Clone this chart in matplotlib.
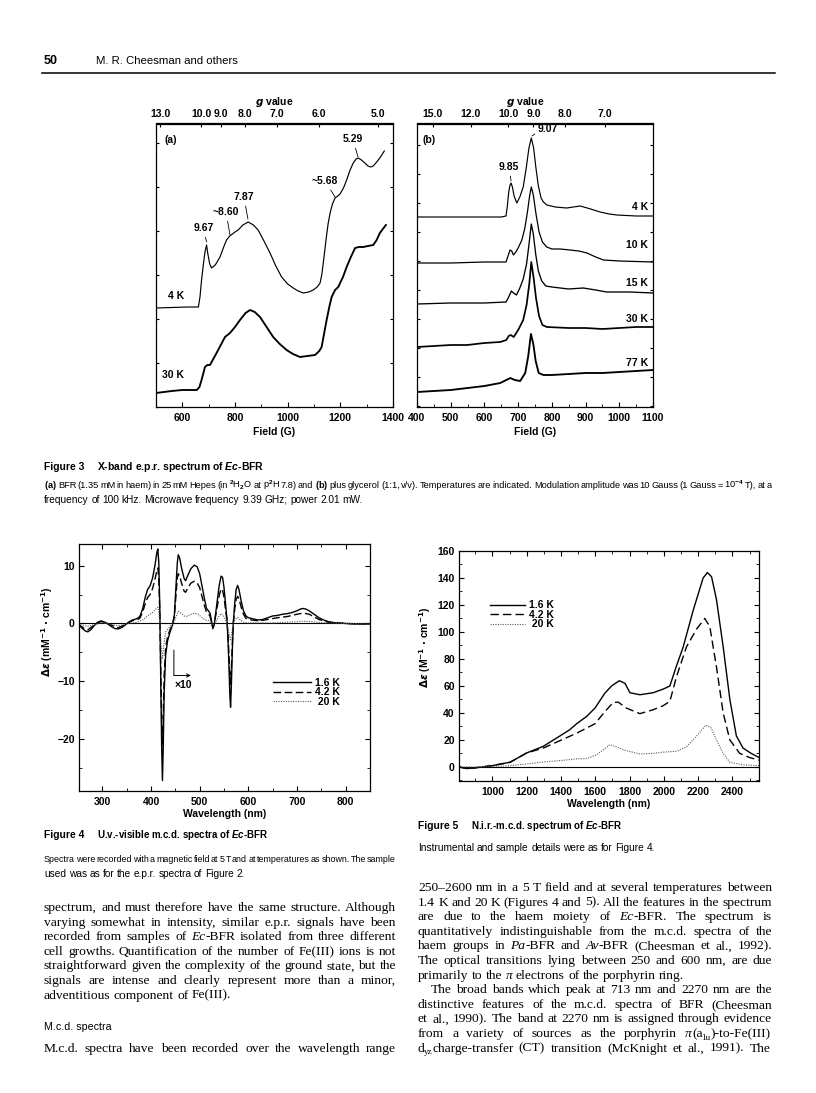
import numpy as np
import matplotlib
matplotlib.use("Agg")
import matplotlib.pyplot as plt
from matplotlib import font_manager
from matplotlib.lines import Line2D
from matplotlib.ticker import MultipleLocator

# ------------------------------------------------------------------ data
# Figure 3(a): X-band EPR, field (G) vs signal (arbitrary units)
a4K_field = [500, 560, 620, 661, 667, 673, 680, 686, 692, 697, 704, 711, 725, 743, 757, 768, 780,
             790, 800, 812, 830, 850, 870, 888, 910, 933, 955, 977, 1000, 1021, 1040, 1059, 1080,
             1097, 1112, 1123, 1130, 1138, 1146, 1154, 1162, 1170, 1180, 1190, 1199, 1212, 1224,
             1237, 1249, 1260, 1268, 1280, 1293, 1305, 1315, 1325, 1335, 1344, 1355, 1367]
a4K_signal = [99, 99.5, 100, 100, 110, 127, 143, 155, 162, 153, 143, 139, 142, 150, 160, 167, 171,
              173, 175, 177, 182, 185, 182, 177, 166, 154, 141, 130, 123, 119, 116, 114, 115,
              117, 120, 124, 133, 150, 168, 184, 195, 203, 209, 211, 213, 219, 227,
              237, 244, 248, 249, 247, 244, 241, 240, 241, 244, 247, 251, 256]
a30K_field = [500, 530, 560, 600, 630, 655, 665, 673, 686, 695, 705, 730, 762, 781, 800, 819, 840,
              857, 875, 895, 920, 945, 970, 996, 1020, 1047, 1075, 1104, 1120, 1129, 1138, 1148,
              1158, 1167, 1180, 1192, 1210, 1224, 1240, 1256, 1270, 1287, 1305, 1325, 1338, 1350, 1373]
a30K_signal = [14, 15, 16, 17, 17, 17, 20, 27, 40, 42, 42, 54, 70, 74, 80, 87, 94,
               97, 95, 90, 80, 70, 63, 57, 53, 50, 51, 52, 56, 60, 73, 87,
               100, 110, 117, 120, 130, 140, 150, 159, 160, 160, 161, 162, 167, 174, 182]

# Figure 3(b): with glycerol, five temperatures
b4K_field = [400, 500, 600, 650, 664, 668, 672, 676, 679, 683, 688, 696, 705, 715, 724, 732, 739, 746,
             752, 760, 768, 775, 785, 810, 844, 884, 915, 943, 970, 993, 1050, 1100]
b4K_signal = [189, 189, 189, 189, 190, 200, 214, 221, 223, 219, 210, 203, 209, 219, 238, 258, 268, 258,
              240, 220, 208, 204, 201, 199, 198, 200, 197, 194, 192, 191, 190, 190]
b10K_field = [400, 500, 600, 664, 670, 676, 681, 686, 693, 700, 711, 720, 728, 734, 739, 745, 753, 762,
              772, 785, 800, 825, 854, 880, 904, 930, 953, 1000, 1100]
b10K_signal = [143, 143, 144, 144, 150, 156, 155, 151, 154, 158, 166, 178, 195, 210, 219, 211, 192, 174,
               164, 159, 157, 157, 156, 155, 153, 149, 146, 145, 144]
b15K_field = [400, 500, 600, 664, 672, 680, 686, 695, 705, 715, 725, 733, 739, 745, 752, 760, 770, 782,
              800, 850, 893, 930, 962, 1030, 1100]
b15K_signal = [102, 103, 103, 104, 109, 115, 113, 111, 118, 127, 142, 164, 182, 172, 152, 135, 125, 120,
               119, 117, 118, 116, 114, 114, 113]
b30K_field = [400, 450, 500, 549, 600, 647, 665, 672, 678, 687, 700, 715, 725, 733, 739, 746, 753, 762,
              772, 785, 850, 900, 950, 1000, 1050, 1100]
b30K_signal = [59, 60, 61, 61, 63, 64, 66, 70, 71, 69, 76, 86, 101, 122, 144, 128, 108, 90,
               81, 79, 78, 78, 77, 78, 79, 79]
b77K_field = [400, 450, 500, 550, 600, 647, 665, 677, 690, 706, 721, 730, 738, 745, 752, 761, 775, 800,
              850, 900, 950, 1000, 1050, 1100]
b77K_signal = [14, 15, 16, 18, 20, 23, 26, 28, 26, 25, 33, 50, 72, 62, 45, 33, 31, 31,
               32, 33, 33, 34, 35, 36]

g_ticks_a = [13.0, 10.0, 9.0, 8.0, 7.0, 6.0, 5.0]
g_ticks_b = [15.0, 12.0, 10.0, 9.0, 8.0, 7.0]
MW_FREQ_GHZ = 9.39

# Figure 4: UV-visible MCD (nm, delta-epsilon mM-1 cm-1)
uv_wl_16 = [250, 258, 265, 270, 276, 283, 290, 297, 303, 310, 318, 325, 332, 340, 348, 355, 362, 370,
            377, 383, 388, 393, 398, 403, 408, 412, 414, 416, 418, 420, 422, 423.5, 425, 427, 430, 434,
            439, 444, 448, 451, 454, 456, 459, 463, 468, 471, 476, 482, 489, 495, 500, 505, 510, 514,
            518, 521, 524, 527, 530, 535, 540, 544, 547, 550, 553, 556, 558, 560, 562, 563.5, 565, 567,
            569, 572, 575, 578, 581, 585, 590, 595, 600, 610, 620, 630, 640, 650, 660, 670, 680, 690,
            700, 707, 713, 718, 725, 735, 745, 755, 765, 780, 800, 820, 850]
uv_de_16 = [-0.1, -0.8, -1.3, -1.45, -1.1, -0.4, 0.2, 0.45, 0.3, 0.0, -0.5, -0.85, -0.95, -0.7, -0.2, 0.3,
            0.6, 0.8, 1.2, 2.6, 4.5, 5.9, 6.5, 7.8, 10.0, 12.3, 12.9, 10.5, 3.0, -10.0, -22.0, -27.2,
            -22.0, -12.0, -5.5, -3.0, -1.5, -0.3, 1.5, 6.0, 10.5, 11.9, 11.3, 9.5, 7.8, 7.4, 8.4, 9.5,
            10.1, 9.8, 8.6, 6.4, 4.2, 2.6, 2.2, 1.8, 0.6, -0.9, -0.2, 3.2, 6.5, 8.2, 8.0, 6.2, 3.5, 0.8,
            -2.5, -7.0, -12.5, -14.5, -11.0, -5.0, 0.0, 3.5, 5.9, 6.6, 5.8, 4.0, 2.2, 1.3, 1.0, 0.8, 0.6,
            0.7, 1.0, 1.3, 1.4, 1.6, 1.7, 1.9, 2.2, 2.5, 2.6, 2.5, 2.2, 1.6, 1.0, 0.6, 0.3, 0.1, 0.0,
            -0.1, -0.1]
uv_wl_42 = [250, 265, 270, 283, 297, 310, 332, 348, 362, 370, 377, 383, 388, 393, 398, 403, 408, 412, 414,
            416, 418, 420, 422, 423.5, 425, 427, 430, 434, 439, 444, 448, 451, 454, 456, 459, 463, 468,
            471, 476, 482, 489, 495, 500, 505, 510, 514, 518, 521, 524, 527, 530, 535, 540, 544, 547,
            550, 553, 556, 558, 560, 562, 563.5, 565, 567, 569, 572, 575, 578, 581, 585, 590, 595, 600,
            620, 640, 660, 680, 700, 713, 725, 745, 765, 800, 850]
uv_de_42 = [-0.1, -1.0, -1.1, -0.3, 0.35, 0.0, -0.75, -0.15, 0.5, 0.6, 0.9, 2.0, 3.4, 4.5, 5.0, 6.0, 7.6,
            9.2, 9.6, 7.8, 2.0, -8.0, -17.0, -21.0, -17.0, -9.0, -4.2, -2.3, -1.1, -0.2, 1.2, 4.6, 7.8,
            8.6, 8.2, 6.9, 5.6, 5.4, 6.2, 7.0, 7.3, 7.0, 6.2, 4.6, 3.0, 2.0, 1.7, 1.3, 0.4, -0.7, -0.1,
            2.4, 4.8, 6.0, 5.8, 4.5, 2.5, 0.6, -1.8, -5.0, -9.0, -10.5, -8.0, -3.6, 0.0, 2.5, 4.2, 4.7,
            4.2, 2.9, 1.6, 0.9, 0.7, 0.45, 0.7, 1.0, 1.2, 1.6, 1.8, 1.6, 0.7, 0.2, 0.0, -0.1]
uv_wl_20 = [250, 270, 297, 310, 332, 355, 370, 383, 393, 403, 412, 414, 416, 418, 421, 423.5, 426, 430,
            440, 448, 452, 456, 460, 468, 472, 480, 489, 497, 505, 512, 518, 524, 527, 531, 540, 545,
            550, 555, 559, 563.5, 567, 571, 576, 579, 584, 590, 600, 650, 700, 713, 730, 760, 800, 850]
uv_de_20 = [-0.1, -0.5, 0.1, 0.0, -0.4, 0.0, 0.2, 0.6, 1.3, 1.9, 2.7, 2.8, 2.2, 0.0, -4.0, -6.0, -4.0,
            -1.5, -0.4, 0.3, 1.3, 2.1, 1.9, 1.3, 1.2, 1.5, 1.8, 1.6, 1.0, 0.6, 0.5, 0.1, -0.3, 0.0, 1.3,
            1.7, 1.2, 0.2, -1.2, -3.0, -1.0, 0.4, 1.0, 1.0, 0.6, 0.2, 0.1, 0.1, 0.3, 0.4, 0.3, 0.1, 0.0,
            -0.1]

# Figure 5: near-IR MCD (nm, delta-epsilon M-1 cm-1)
nir_wl_16 = [805, 850, 900, 1000, 1103, 1200, 1297, 1350, 1394, 1450, 1491, 1550, 1598, 1656, 1695, 1740,
             1773, 1802, 1860, 1938, 1996, 2035, 2074, 2113, 2171, 2229, 2254, 2278, 2307, 2346, 2385,
             2423, 2462, 2510, 2555]
nir_de_16 = [0, -1.2, -0.7, 1.0, 3.5, 10.4, 15.3, 19.5, 23, 27.5, 32, 37.5, 43.6, 54.7, 60, 63.9,
             62, 55, 53.5, 55, 57.7, 60, 75, 89, 116, 140, 144, 141, 124, 89, 50, 23, 14, 10, 7]
nir_wl_42 = [805, 850, 900, 1000, 1103, 1200, 1297, 1394, 1491, 1598, 1656, 1705, 1734, 1782, 1860, 1938,
             1996, 2035, 2074, 2132, 2190, 2239, 2268, 2307, 2346, 2385, 2443, 2500, 2555]
nir_de_42 = [0, -1.0, -0.6, 1.0, 3.5, 10.4, 14, 19.5, 25, 32, 41, 47.8, 48, 43.6, 39.5, 42.4,
             45.4, 48.6, 67, 89, 102, 110, 104, 74, 40, 20, 10, 7, 5]
nir_wl_20 = [805, 900, 1000, 1103, 1200, 1297, 1400, 1491, 1550, 1608, 1650, 1685, 1720, 1763, 1800, 1860,
             1930, 1996, 2074, 2132, 2190, 2245, 2275, 2307, 2346, 2385, 2462, 2555]
nir_de_20 = [0, 0, 0.3, 1.0, 2.2, 3.7, 4.8, 6.0, 6.2, 9, 13, 16.5, 15, 12.8, 11.5, 9.6,
             10, 11, 11.6, 15, 22.7, 31, 29, 20, 10, 3.5, 1.5, 1]

temp_labels = ['1.6 K', '4.2 K', ' 20 K']

# ------------------------------------------------------------------ setup
W, H = 816, 1093
avail = {f.name for f in font_manager.fontManager.ttflist}
NARROW = 'Liberation Sans Narrow' if 'Liberation Sans Narrow' in avail else 'Liberation Sans'
SANS = 'Liberation Sans'
SERIF = 'Liberation Serif'

plt.rcParams.update({
    'font.family': SANS,
    'font.weight': 'bold',
    'font.size': 7.5,
    'axes.linewidth': 0.9,
    'xtick.direction': 'in', 'ytick.direction': 'in',
    'xtick.major.size': 3.5, 'ytick.major.size': 3.5,
    'xtick.minor.size': 2.0, 'ytick.minor.size': 2.0,
    'xtick.major.width': 0.8, 'ytick.major.width': 0.8,
    'xtick.minor.width': 0.6, 'ytick.minor.width': 0.6,
    'mathtext.fontset': 'custom',
    'mathtext.rm': NARROW,
    'mathtext.it': NARROW + ':italic:bold',
    'mathtext.bf': NARROW + ':bold',
})

fig = plt.figure(figsize=(W / 100, H / 100), dpi=100)
R = fig.canvas.get_renderer()


def add_ax(x0, y0, x1, y1):
    return fig.add_axes([x0 / W, 1 - y1 / H, (x1 - x0) / W, (y1 - y0) / H])


def T(x, y, s, **kw):
    kw.setdefault('va', 'baseline')
    kw.setdefault('ha', 'left')
    return fig.text(x / W, 1 - y / H, s, **kw)


def width_of(t):
    return t.get_window_extent(R).width


def fit(x0, x1, y, s, size, lo=0.8, hi=1.25, **kw):
    o = T(x0, y, s, fontsize=size, **kw)
    f = (x1 - x0) / width_of(o)
    o.set_fontsize(size * min(max(f, lo), hi))
    return o


def split_word(w, markup):
    """'*' toggles italic, '_' toggles subscript; returns [(text, italic, sub)]."""
    if not markup:
        return [(w, False, False)]
    out, buf, it, sub = [], '', False, False
    for ch in w:
        if ch in '*_':
            if buf:
                out.append((buf, it, sub))
            buf = ''
            if ch == '*':
                it = not it
            else:
                sub = not sub
        else:
            buf += ch
    if buf:
        out.append((buf, it, sub))
    return out


def set_line(x0, x1, y, text, justify=True, size=9.0, markup=True, **kw):
    """Lay out one line of words, justified between x0 and x1 when asked."""
    groups = []
    for w in text.split(' '):
        objs = []
        for piece, it, sub in split_word(w, markup):
            rel = 0.68 if sub else 1.0
            o = T(x0, y + (2.5 if sub else 0), piece, fontsize=size * rel,
                  style=('italic' if it else 'normal'), **kw)
            objs.append((o, rel))
        groups.append(objs)

    def measure():
        return [[width_of(o) for o, _ in g] for g in groups]

    ws = measure()
    n = len(groups)
    sp = size * 100 / 72 * 0.25
    if justify and n > 1:
        tot = sum(sum(g) for g in ws)
        gap = (x1 - x0 - tot) / (n - 1)
        if gap < 0.5 * sp:
            f = (x1 - x0 - 0.5 * sp * (n - 1)) / tot
            for g in groups:
                for o, rel in g:
                    o.set_fontsize(size * f * rel)
            ws = measure()
            tot = sum(sum(g) for g in ws)
            gap = (x1 - x0 - tot) / (n - 1)
    else:
        gap = sp
    x = x0
    for g, wl in zip(groups, ws):
        for (o, rel), w in zip(g, wl):
            if rel < 1:
                x -= 1.2
            o.set_x(x / W)
            x += w
        x += gap
    return groups


G_FACTOR = 714.477 * MW_FREQ_GHZ   # B(G) = G_FACTOR / g


def b_to_g(x):
    x = np.asarray(x, dtype=float)
    out = np.full_like(x, np.inf)
    np.divide(G_FACTOR, x, out=out, where=(x != 0))
    return out


def lead(ax, s, xy, xytext, **kw):
    ax.annotate(s, xy=xy, xytext=xytext, ha='center', va='center', fontsize=7.5,
                fontweight='bold',
                arrowprops=dict(arrowstyle='-', lw=0.6, color='k', shrinkA=1, shrinkB=0, **kw))


# ------------------------------------------------------------------ header
fit(44, 58, 64, '50', 9.5, fontweight='bold', family=SANS)
fit(96, 238, 64, 'M. R. Cheesman and others', 8.5, fontweight='normal', family=SANS)
fig.add_artist(Line2D([42 / W, 775 / W], [1 - 73 / H] * 2, color='k', lw=1.1))

# ------------------------------------------------------------------ Figure 3(a)
ax_a = add_ax(156, 123.5, 393, 407)
ax_a.plot(a4K_field, a4K_signal, color='k', lw=0.85)
ax_a.plot(a30K_field, a30K_signal, color='k', lw=1.35)
ax_a.set_xlim(500, 1400)
ax_a.set_ylim(0, 283.5)
ax_a.xaxis.set_major_locator(MultipleLocator(200))
ax_a.xaxis.set_minor_locator(MultipleLocator(100))
ax_a.yaxis.set_major_locator(MultipleLocator(44))
ax_a.tick_params(axis='y', which='both', left=True, right=True, labelleft=False, length=2)
ax_a.tick_params(axis='x', which='both', top=False, pad=4.5, labelsize=7.5)
ax_a.set_xlabel('Field (G)', fontsize=7.5, fontweight='bold', labelpad=3)
sec_a = ax_a.secondary_xaxis('top', functions=(b_to_g, b_to_g))
sec_a.set_xticks(g_ticks_a, labels=[f'{g:.1f}' for g in g_ticks_a])
sec_a.tick_params(direction='in', pad=3, labelsize=7.5, length=3)
T(274, 105, '$g$ value', ha='center', fontsize=7.5, fontweight='bold', math_fontfamily='dejavusans')

ax_a.text(557, 267, '(a)', ha='center', va='center', fontsize=7.5, fontweight='bold')
lead(ax_a, '9.67', (692, 165), (680, 179))
lead(ax_a, '~8.60', (781, 172), (766, 195))
lead(ax_a, '7.87', (849, 188), (834, 210))
lead(ax_a, '~5.68', (1180, 210), (1142, 226))
lead(ax_a, '5.29', (1267, 250), (1248, 268))
ax_a.text(576, 111, '4 K', ha='center', va='center', fontsize=7.5, fontweight='bold')
ax_a.text(565, 32, '30 K', ha='center', va='center', fontsize=7.5, fontweight='bold')

# ------------------------------------------------------------------ Figure 3(b)
ax_b = add_ax(417, 123.5, 653, 407)
for fld, sig, lw in [(b4K_field, b4K_signal, 0.85), (b10K_field, b10K_signal, 0.9),
                     (b15K_field, b15K_signal, 0.95), (b30K_field, b30K_signal, 1.25),
                     (b77K_field, b77K_signal, 1.35)]:
    ax_b.plot(fld, sig, color='k', lw=lw)
ax_b.set_xlim(400, 1100)
ax_b.set_ylim(-1, 282.5)
ax_b.xaxis.set_major_locator(MultipleLocator(100))
ax_b.xaxis.set_minor_locator(MultipleLocator(50))
ax_b.yaxis.set_major_locator(MultipleLocator(29))
ax_b.tick_params(axis='y', which='both', left=True, right=True, labelleft=False, length=2)
ax_b.tick_params(axis='x', which='both', top=False, pad=4.5, labelsize=7.5)
ax_b.set_xlabel('Field (G)', fontsize=7.5, fontweight='bold', labelpad=3)
sec_b = ax_b.secondary_xaxis('top', functions=(b_to_g, b_to_g))
sec_b.set_xticks(g_ticks_b, labels=[f'{g:.1f}' for g in g_ticks_b])
sec_b.tick_params(direction='in', pad=3, labelsize=7.5, length=3)
T(525, 105, '$g$ value', ha='center', fontsize=7.5, fontweight='bold', math_fontfamily='dejavusans')

ax_b.text(436, 266, '(b)', ha='center', va='center', fontsize=7.5, fontweight='bold')
lead(ax_b, '9.85', (679, 225), (673, 239))
ax_b.annotate('9.07', xy=(741, 270), xytext=(788, 277), ha='center', va='center', fontsize=7.5,
              fontweight='bold',
              arrowprops=dict(arrowstyle='-', lw=0.6, color='k', shrinkA=0, shrinkB=0,
                              relpos=(0.0, 0.2)))
for lab, yv in [('4 K', 199), ('10 K', 161), ('15 K', 123), ('30 K', 87), ('77 K', 43)]:
    ax_b.text(1085, yv, lab, ha='right', va='center', fontsize=7.5, fontweight='bold')

# ------------------------------------------------------------------ Figure 3 caption
cap = dict(size=7.3, fontweight='normal', family=NARROW, markup=False)
fit(44, 84, 470, 'Figure 3', 8.5, fontweight='bold', family=NARROW)
fit(97, 263, 470, 'X-band e.p.r. spectrum of $\\mathit{Ec}$-BFR', 8.5, fontweight='bold', family=NARROW)
set_line(44, 772, 488,
         '$\\mathbf{(a)}$ BFR (1.35 mM in haem) in 25 mM Hepes (in $^{2}$H$_{2}$O at p$^{2}$H 7.8) and '
         '$\\mathbf{(b)}$ plus glycerol (1:1, v/v). Temperatures are indicated. Modulation amplitude '
         'was 10 Gauss (1 Gauss = 10$^{-4}$ T), at a', math_fontfamily='custom', **cap)
set_line(44, 772, 503, 'frequency of 100 kHz. Microwave frequency 9.39 GHz; power 2.01 mW.',
         justify=False, **cap)

# ------------------------------------------------------------------ Figure 4
ax4 = add_ax(79, 544, 370, 791)
ax4.axhline(0, color='k', lw=0.8)
l16, = ax4.plot(uv_wl_16, uv_de_16, color='k', lw=1.0)
l42, = ax4.plot(uv_wl_42, uv_de_42, color='k', lw=1.0, dashes=(5.5, 2.5))
l20, = ax4.plot(uv_wl_20, uv_de_20, color='0.35', lw=0.8, dashes=(1, 1.2))
ax4.set_xlim(252, 850)
ax4.set_ylim(-29.0, 13.76)
ax4.xaxis.set_major_locator(MultipleLocator(100))
ax4.xaxis.set_minor_locator(MultipleLocator(50))
ax4.yaxis.set_major_locator(MultipleLocator(10))
ax4.yaxis.set_minor_locator(MultipleLocator(5))
ax4.tick_params(which='both', top=True, right=True)
ax4.tick_params(axis='x', pad=4, labelsize=7.5)
ax4.tick_params(axis='y', pad=3, labelsize=7.5)
ax4.set_xticks([300, 400, 500, 600, 700, 800])
ax4.set_xlabel('Wavelength (nm)', fontsize=7.5, fontweight='bold', labelpad=2)
ax4.set_ylabel('$\\Delta\\varepsilon$ (mM$^{-1}$ $\\cdot$ cm$^{-1}$)', fontsize=7.5, fontweight='bold',
               math_fontfamily='dejavusans')
ax4.yaxis.set_label_coords(-0.083, 0.644)
ax4.legend([l16, l42, l20], temp_labels, loc='upper left', bbox_to_anchor=(0.667, 0.458),
           frameon=False, handlelength=3.6, handletextpad=0.45, labelspacing=-0.05,
           borderpad=0, borderaxespad=0, prop={'weight': 'bold', 'size': 7.5})
ax4.annotate('', xy=(447, -9.0), xytext=(447, -4.6),
             arrowprops=dict(arrowstyle='-', lw=0.7, color='k', shrinkA=0, shrinkB=0))
ax4.annotate('', xy=(482, -9.0), xytext=(447, -9.0),
             arrowprops=dict(arrowstyle='->', lw=0.7, color='k', shrinkA=0, shrinkB=0,
                             mutation_scale=6))
ax4.text(467, -10.6, '\u00d710', ha='center', va='center', fontsize=7.5, fontweight='bold')

fit(44, 84, 838, 'Figure 4', 8.5, fontweight='bold', family=NARROW)
fit(97, 268, 838, 'U.v.-visible m.c.d. spectra of $\\mathit{Ec}$-BFR', 8.5, fontweight='bold',
    family=NARROW)
set_line(44, 396, 862, 'Spectra were recorded with a magnetic field at 5 T and at temperatures as shown. '
         'The sample', **cap)
set_line(44, 396, 877, 'used was as for the e.p.r. spectra of Figure 2.', justify=False, **cap)

# ------------------------------------------------------------------ Figure 5
ax5 = add_ax(459, 551, 759, 781)
ax5.axhline(0, color='k', lw=0.8)
n16, = ax5.plot(nir_wl_16, nir_de_16, color='k', lw=1.0)
n42, = ax5.plot(nir_wl_42, nir_de_42, color='k', lw=1.0, dashes=(6, 3))
n20, = ax5.plot(nir_wl_20, nir_de_20, color='0.35', lw=0.8, dashes=(1, 1.2))
ax5.set_xlim(805, 2555)
ax5.set_ylim(-10.4, 160)
ax5.xaxis.set_major_locator(MultipleLocator(200))
ax5.xaxis.set_minor_locator(MultipleLocator(100))
ax5.yaxis.set_major_locator(MultipleLocator(20))
ax5.yaxis.set_minor_locator(MultipleLocator(10))
ax5.tick_params(which='both', top=True, right=True)
ax5.tick_params(axis='x', pad=4, labelsize=7.5)
ax5.tick_params(axis='y', pad=3, labelsize=7.5)
ax5.set_xlabel('Wavelength (nm)', fontsize=7.5, fontweight='bold', labelpad=2)
ax5.set_ylabel('$\\Delta\\varepsilon$ (M$^{-1}$ $\\cdot$ cm$^{-1}$)', fontsize=7.5, fontweight='bold',
               math_fontfamily='dejavusans')
ax5.yaxis.set_label_coords(-0.087, 0.583)
ax5.legend([n16, n42, n20], temp_labels, loc='upper left', bbox_to_anchor=(0.103, 0.786),
           frameon=False, handlelength=3.4, handletextpad=0.4, labelspacing=-0.05,
           borderpad=0, borderaxespad=0, prop={'weight': 'bold', 'size': 7.5})

fit(418, 458, 829, 'Figure 5', 8.5, fontweight='bold', family=NARROW)
fit(471, 622, 829, 'N.i.r.-m.c.d. spectrum of $\\mathit{Ec}$-BFR', 8.5, fontweight='bold', family=NARROW)
set_line(418, 772, 851, 'Instrumental and sample details were as for Figure 4.', justify=False, **cap)

# ------------------------------------------------------------------ body text
body = dict(size=9.7, fontweight='normal', family=SERIF)
left_lines = [
    ('spectrum, and must therefore have the same structure. Although', True),
    ('varying somewhat in intensity, similar e.p.r. signals have been', True),
    ('recorded from samples of *Ec*-BFR isolated from three different', True),
    ('cell growths. Quantification of the number of Fe(III) ions is not', True),
    ('straightforward given the complexity of the ground state, but the', True),
    ('signals are intense and clearly represent more than a minor,', True),
    ('adventitious component of Fe(III).', False),
]
for i, (s, j) in enumerate(left_lines):
    set_line(44, 396, 911 + i * 14.6, s, justify=j, **body)
fit(44, 111, 1030, 'M.c.d. spectra', 9.0, fontweight='normal', family=NARROW)
set_line(44, 396, 1052, 'M.c.d. spectra have been recorded over the wavelength range', **body)

right_lines = [
    ('250\u20132600 nm in a 5 T field and at several temperatures between', True, 418),
    ('1.4 K and 20 K (Figures 4 and 5). All the features in the spectrum', True, 418),
    ('are due to the haem moiety of *Ec*-BFR. The spectrum is', True, 418),
    ('quantitatively indistinguishable from the m.c.d. spectra of the', True, 418),
    ('haem groups in *Pa*-BFR and *Av*-BFR (Cheesman et al., 1992).', True, 418),
    ('The optical transitions lying between 250 and 600 nm, are due', True, 418),
    ('primarily to the *\u03c0* electrons of the porphyrin ring.', False, 418),
    ('The broad bands which peak at 713 nm and 2270 nm are the', True, 431),
    ('distinctive features of the m.c.d. spectra of BFR (Cheesman', True, 418),
    ('et al., 1990). The band at 2270 nm is assigned through evidence', True, 418),
    ('from a variety of sources as the porphyrin *\u03c0*(a_1u_)-to-Fe(III)', True, 418),
    ('d_yz_charge-transfer (CT) transition (McKnight et al., 1991). The', True, 418),
]
for i, (s, j, x0) in enumerate(right_lines):
    set_line(x0, 772, 891 + i * 14.6, s, justify=j, **body)

fig.savefig('out.png', dpi=100)
